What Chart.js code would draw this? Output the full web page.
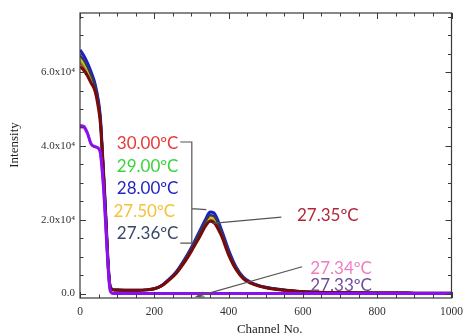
<!DOCTYPE html>
<html>
<head>
<meta charset="utf-8">
<script src="https://cdn.jsdelivr.net/npm/chart.js@4"></script>
<style>
html,body{margin:0;padding:0;background:#fff;}
#c{display:block;}
</style>
</head>
<body>
<canvas id="c" width="470" height="335"></canvas>
<script>
// ---- data ----
const channels = [0,10,20,30,40,50,55,60,65,70,75,80,85,90,100,120,150,180,200,220,240,260,280,300,320,340,350,360,380,400,420,440,460,480,500,550,600,700,800,900,1000];

const t3000 = [62500,61500,60000,58000,55800,51000,47000,38500,29500,19500,9200,2600,1250,1000,950,900,900,1000,1300,2150,3800,5800,8700,12000,15700,19200,20200,20000,16500,11000,6800,4200,2900,2150,1650,920,510,260,160,120,100];
const t2900 = [63000,62000,60500,58500,56200,51400,47200,38700,29700,19700,9300,2600,1250,1000,950,900,900,1000,1300,2150,3800,5850,8800,12100,15800,19300,20400,20200,16600,11100,6850,4200,2900,2150,1650,920,510,260,160,120,100];
const t2800 = [66000,64500,62500,60000,57000,52000,47500,39000,30000,20000,9500,2600,1200,1000,950,900,900,1000,1300,2200,3900,6000,9000,12500,16500,20500,22100,21900,17500,11800,7200,4400,3000,2200,1700,950,520,260,160,120,100];
const t2750 = [63500,62500,60800,58600,56000,51200,47000,38600,29600,19600,9300,2600,1250,1000,950,900,900,1000,1300,2150,3800,5850,8800,12100,15900,19500,20600,20400,16700,11200,6900,4250,2950,2150,1650,920,510,260,160,120,100];
const t2736 = [64500,63300,61500,59200,56500,51600,47300,38800,29800,19800,9400,2600,1250,1000,950,900,900,1000,1300,2200,3850,5950,8900,12300,16200,20000,21200,21000,17000,11500,7000,4300,2950,2200,1700,940,515,260,160,120,100];
const t2735 = [61500,60500,59000,57000,55000,50000,46000,38000,29000,19000,9000,2500,1200,1000,950,900,900,1000,1300,2100,3700,5600,8300,11500,15000,18600,19600,19300,15800,10500,6500,4000,2800,2100,1600,900,500,250,150,120,100];
const t2734 = [45000,44800,43200,40400,39700,39200,37800,32800,25800,16800,7900,1400,200,0,0,0,0,0,0,0,0,0,0,0,0,0,0,0,0,0,0,0,0,0,0,0,0,0,0,0,0];
const t2733 = [45500,45300,43500,40500,39800,39300,38000,33000,26000,17000,8000,1500,200,0,0,0,0,0,0,0,0,0,0,0,0,0,0,0,0,0,0,0,0,0,0,0,0,0,0,0,0];

const seriesNames = ['30.00ºC','29.00ºC','28.00ºC','27.50ºC','27.36ºC','27.35ºC','27.34ºC','27.33ºC'];

const xTickValues = [0,200,400,600,800,1000];
const xTickLabels = ['0','200','400','600','800','1000'];
const yTickValues = [0,20000,40000,60000];
const yTickLabels = ['0.0','2.0x10⁴','4.0x10⁴','6.0x10⁴'];
const xTitle = 'Channel No.';
const yTitle = 'Intensity';

// ---- styling ----
const lineColors = ['#e02a2a','#2ec42e','#1c1cd0','#f0b020','#2c3a60','#7a0a0a','#f07ac0','#8a10f0'];
const textColors = ['#e83838','#3ad43a','#2424c0','#f4c234','#3a4866','#b02838','#f07cc4','#6e4c9c'];
const lineWidths = [2.5,2.5,3,2.5,2.5,3,2.5,3];
const drawOrder = [0,1,3,2,4,5,6,7];

function pts(vals){ return channels.map((c,i)=>({x:c,y:vals[i]})); }
const allVals = [t3000,t2900,t2800,t2750,t2736,t2735,t2734,t2733];

const datasets = drawOrder.map((k, idx)=>({
  label: seriesNames[k],
  data: pts(allVals[k]),
  borderColor: lineColors[k],
  borderWidth: lineWidths[k],
  pointRadius: 0,
  fill: false,
  cubicInterpolationMode: 'monotone',
  order: drawOrder.length - idx
}));

// annotation anchors in data units
const bracketLabels = [
  {i:0, x:265, y:40650},
  {i:1, x:265, y:34420},
  {i:2, x:265, y:28460},
  {i:3, x:256, y:22360},
  {i:4, x:265, y:16400}
];

const annot = {
  id:'annot',
  afterDraw(chart){
    const ctx = chart.ctx, xs = chart.scales.x, ys = chart.scales.y;
    const X = v=>xs.getPixelForValue(v), Y = v=>ys.getPixelForValue(v);
    const ca = chart.chartArea;
    ctx.save();
    // frame
    ctx.strokeStyle = '#3a3a3a';
    ctx.lineWidth = 1.2;
    ctx.strokeRect(ca.left, ca.top, ca.right-ca.left, ca.bottom-ca.top);
    // inward ticks
    ctx.lineWidth = 1;
    ctx.beginPath();
    for (let v=0; v<=1000; v+=50){
      const len = (v%200===0)?6:3.5;
      const px = Math.round(X(v))+0.5;
      ctx.moveTo(px, ca.bottom); ctx.lineTo(px, ca.bottom-len);
      ctx.moveTo(px, ca.top); ctx.lineTo(px, ca.top+len);
    }
    for (let v=0; v<=75000; v+=5000){
      const len = (v%20000===0)?6:3.5;
      const py = Math.round(Y(v))+0.5;
      ctx.moveTo(ca.left, py); ctx.lineTo(ca.left+len, py);
      ctx.moveTo(ca.right, py); ctx.lineTo(ca.right-len, py);
    }
    ctx.stroke();

    // axis titles
    ctx.fillStyle = '#222';
    ctx.font = '13px "Liberation Serif"';
    ctx.textAlign = 'center';
    ctx.textBaseline = 'middle';
    ctx.fillText(xTitle, (ca.left+ca.right)/2 + 4, 330);
    ctx.save();
    ctx.translate(15, 145);
    ctx.rotate(-Math.PI/2);
    ctx.fillText(yTitle, 0, 0);
    ctx.restore();

    // labels
    ctx.font = '17px Lato';
    ctx.textBaseline = 'middle';
    ctx.textAlign = 'right';
    bracketLabels.forEach(b=>{
      ctx.fillStyle = textColors[b.i];
      ctx.fillText(seriesNames[b.i], X(b.x), Y(b.y));
    });
    ctx.textAlign = 'left';
    ctx.fillStyle = textColors[5];
    ctx.fillText(seriesNames[5], X(584), Y(21260));
    ctx.fillStyle = textColors[6];
    ctx.fillText(seriesNames[6], X(620), Y(6900));
    ctx.fillStyle = textColors[7];
    ctx.fillText(seriesNames[7], X(620), Y(2300));

    // bracket and pointer lines
    ctx.strokeStyle = '#555';
    ctx.lineWidth = 1.2;
    ctx.beginPath();
    ctx.moveTo(X(270), Y(41060)); ctx.lineTo(X(301), Y(41060));
    ctx.lineTo(X(301), Y(13680)); ctx.lineTo(X(270), Y(13680));
    ctx.moveTo(X(301), Y(23020)); ctx.lineTo(X(340), Y(22750));
    ctx.moveTo(X(542), Y(20720)); ctx.lineTo(X(356), Y(19010));
    // arrow
    const ax0 = X(598), ay0 = Y(7260), ax1 = X(314), ay1 = Y(-810);
    ctx.moveTo(ax0, ay0); ctx.lineTo(ax1, ay1);
    const ang = Math.atan2(ay0-ay1, ax0-ax1);
    const hl = 8, ha = 0.35;
    ctx.moveTo(ax1 + hl*Math.cos(ang+ha), ay1 + hl*Math.sin(ang+ha));
    ctx.lineTo(ax1, ay1);
    ctx.lineTo(ax1 + hl*Math.cos(ang-ha), ay1 + hl*Math.sin(ang-ha));
    ctx.stroke();
    ctx.restore();
  }
};

new Chart(document.getElementById('c'), {
  type: 'line',
  data: { datasets },
  options: {
    responsive: false,
    animation: false,
    layout: { padding: { top: 13, right: 8, left: 0, bottom: 0 } },
    plugins: { legend: { display: false }, tooltip: { enabled: false } },
    scales: {
      x: {
        type: 'linear', min: 0, max: 1000,
        grid: { display: false, drawTicks: false },
        border: { display: false },
        afterBuildTicks: s => { s.ticks = xTickValues.map(v=>({value:v})); },
        ticks: { padding: 7, autoSkip: false, maxRotation: 0, color: '#333',
                 font: { family: 'Liberation Serif', size: 11.5 },
                 callback: (v) => { const i = xTickValues.indexOf(v); return i>=0 ? xTickLabels[i] : ''; } },
        title: { display: false },
        afterFit: s => { s.height = 37; }
      },
      y: {
        type: 'linear', min: -1200, max: 76000,
        grid: { display: false, drawTicks: false },
        border: { display: false },
        afterBuildTicks: s => { s.ticks = yTickValues.map(v=>({value:v})); },
        ticks: { padding: 5, color: '#333', font: { family: 'Liberation Serif', size: 11 },
                 callback: (v) => { const i = yTickValues.indexOf(v); return i>=0 ? yTickLabels[i] : ''; } },
        afterFit: s => { s.width = 80; }
      }
    }
  },
  plugins: [annot]
});
</script>
</body>
</html>
